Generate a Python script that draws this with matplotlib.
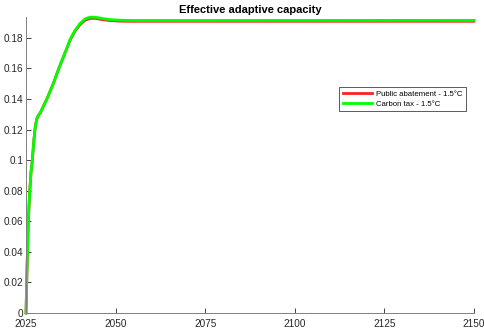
import matplotlib
matplotlib.use('Agg')
from matplotlib import pyplot as plt

years = [2025.0, 2025.3, 2025.64, 2026.0, 2026.4, 2026.76, 2027.2, 2027.6, 2028.0,
         2028.5, 2029.0, 2029.8, 2031.0, 2032.6, 2034.0, 2035.0, 2036.2, 2037.3,
         2038.7, 2040.1, 2041.5, 2042.9, 2044.5, 2046.0, 2048.4, 2051.0, 2055.0,
         2060.0, 2150.0]

public_abatement = [0.0, 0.030, 0.059, 0.078, 0.092, 0.100, 0.113, 0.122, 0.127,
                    0.1295, 0.131, 0.135, 0.141, 0.150, 0.159, 0.165, 0.172, 0.1785,
                    0.1845, 0.1888, 0.1916, 0.1928, 0.1928, 0.1921, 0.1914, 0.1910,
                    0.1909, 0.1909, 0.1909]

carbon_tax = [0.0, 0.030, 0.059, 0.078, 0.092, 0.100, 0.113, 0.122, 0.127,
              0.1295, 0.131, 0.135, 0.141, 0.150, 0.159, 0.165, 0.172, 0.179,
              0.185, 0.1895, 0.1925, 0.1936, 0.1935, 0.1928, 0.1920, 0.1916,
              0.1914, 0.1914, 0.1915]

xticks = [2025, 2050, 2075, 2100, 2125, 2150]
yticks = [0, 0.02, 0.04, 0.06, 0.08, 0.1, 0.12, 0.14, 0.16, 0.18]
ytick_labels = ['0', '0.02', '0.04', '0.06', '0.08', '0.1', '0.12', '0.14', '0.16', '0.18']

plt.rcParams['font.family'] = 'Liberation Sans'
fig = plt.figure(figsize=(4.85, 3.32), dpi=100)
ax = fig.add_axes([0.0536, 0.0572, 0.9234, 0.8916])

ax.plot(years, public_abatement, color='#ff2020', lw=2.0, label='Public abatement - 1.5°C', clip_on=False)
ax.plot(years, carbon_tax, color='#00ff00', lw=2.0, label='Carbon tax - 1.5°C', clip_on=False)

ax.set_xlim(2025, 2150)
ax.set_ylim(0, 0.1937)
ax.set_xticks(xticks)
ax.set_yticks(yticks)
ax.set_yticklabels(ytick_labels)
ax.tick_params(direction='in', length=3.5, width=0.6, labelsize=7.2, colors='#262626')
ax.tick_params(axis='x', pad=4)
ax.tick_params(axis='y', pad=2)
for side in ['top', 'right']:
    ax.spines[side].set_visible(False)
for side in ['left', 'bottom']:
    ax.spines[side].set_color('#808080')
    ax.spines[side].set_linewidth(0.7)

ax.set_title('Effective adaptive capacity', fontsize=8, fontweight='bold', pad=3)

leg = ax.legend(loc='upper left', bbox_to_anchor=(0.70, 0.762), borderaxespad=0,
                fontsize=5.6, fancybox=False, framealpha=1, edgecolor='#404040',
                handlelength=3.8, borderpad=0.4, labelspacing=0.3, handletextpad=0.5)
leg.get_frame().set_linewidth(0.6)

plt.savefig('out.png', dpi=100)
